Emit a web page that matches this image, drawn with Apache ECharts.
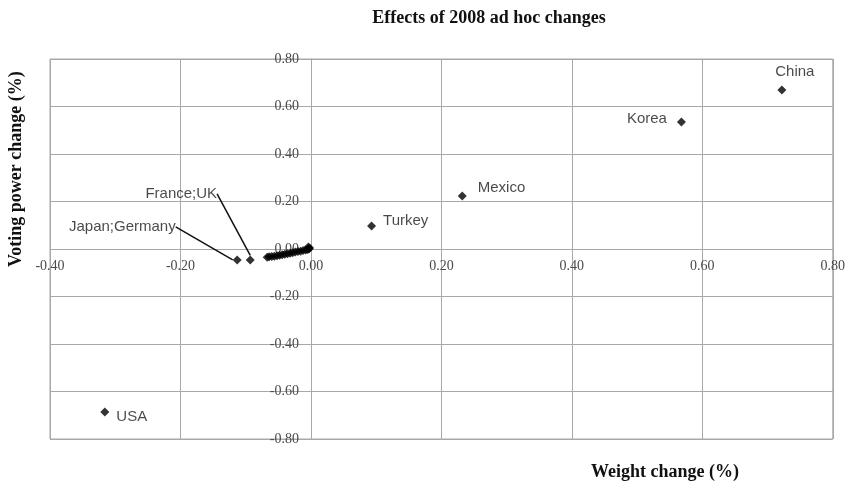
<!DOCTYPE html>
<html>
<head>
<meta charset="utf-8">
<script src="https://cdn.jsdelivr.net/npm/echarts@6/dist/echarts.min.js"></script>
<style>
  html, body { margin: 0; padding: 0; background: #fff; }
  #main { width: 848px; height: 482px; }
</style>
</head>
<body>
<div id="main"></div>
<script>
// labelled countries
var countries = ['China', 'Korea', 'Mexico', 'Turkey', 'USA', 'Japan;Germany', 'France;UK'];
var weightChange = [0.722, 0.568, 0.232, 0.093, -0.316, -0.113, -0.093];
var votingChange = [0.669, 0.535, 0.223, 0.097, -0.686, -0.046, -0.046];

// the rest of the members, bunched up near the origin
var otherWeight = [-0.067, -0.064, -0.060, -0.056, -0.052, -0.048, -0.044, -0.040, -0.036, -0.032,
                   -0.028, -0.024, -0.020, -0.016, -0.012, -0.008, -0.005, -0.003, -0.002, -0.004];
var otherVoting = [-0.035, -0.033, -0.032, -0.030, -0.028, -0.026, -0.024, -0.022, -0.020, -0.018,
                   -0.016, -0.013, -0.011, -0.009, -0.006, -0.004, -0.002, 0.000, 0.004, 0.008];

var xTicks = { min: -0.4, max: 0.8, step: 0.2 };
var yTicks = { min: -0.8, max: 0.8, step: 0.2 };

// label placement: side of the marker, then a nudge in px
var labelSide = {
  'China': 'top', 'Korea': 'left', 'Mexico': 'right', 'Turkey': 'right',
  'USA': 'right', 'Japan;Germany': 'left', 'France;UK': 'top'
};
var labelNudge = {
  'China': [13, -1],
  'Korea': [-5, -3],
  'Mexico': [6, -8],
  'Turkey': [2, -5],
  'USA': [2, 5],
  'Japan;Germany': [-52, -33],
  'France;UK': [-69, -49]
};
var withLeader = { 'Japan;Germany': true, 'France;UK': true };

var labelled = [];
for (var i = 0; i < countries.length; i++) {
  labelled.push({
    name: countries[i],
    value: [weightChange[i], votingChange[i]],
    label: { show: true, position: labelSide[countries[i]] },
    labelLine: { show: !!withLeader[countries[i]] }
  });
}
var others = [];
for (var j = 0; j < otherWeight.length; j++) {
  others.push([otherWeight[j], otherVoting[j]]);
}

var gridLeft = 50, gridRight = 12, gridTop = 59, gridBottom = 43;
var tickFont = { fontFamily: 'Liberation Serif', fontSize: 14, color: '#4a4a4a' };
var gridColor = '#a8a8a8';

var myChart = echarts.init(document.getElementById('main'));
myChart.setOption({
  animation: false,
  title: {
    text: 'Effects of 2008 ad hoc changes',
    left: 484,
    top: 4,
    textAlign: 'center',
    textStyle: { fontFamily: 'Liberation Serif', fontWeight: 'bold', fontSize: 18, color: '#111' }
  },
  grid: {
    left: gridLeft, right: gridRight, top: gridTop, bottom: gridBottom,
    show: true, borderColor: gridColor, borderWidth: 1
  },
  xAxis: {
    type: 'value',
    min: xTicks.min, max: xTicks.max, interval: xTicks.step,
    axisLine: { show: true, onZero: false, lineStyle: { color: gridColor } },
    axisTick: { show: false },
    splitLine: { show: true, lineStyle: { color: gridColor } },
    axisLabel: {
      margin: 10,
      formatter: function (v) { return v.toFixed(2); },
      fontFamily: tickFont.fontFamily, fontSize: tickFont.fontSize, color: tickFont.color
    }
  },
  yAxis: {
    type: 'value',
    min: yTicks.min, max: yTicks.max, interval: yTicks.step,
    axisLine: { show: true, onZero: false, lineStyle: { color: gridColor } },
    axisTick: { show: false },
    splitLine: { show: true, lineStyle: { color: gridColor } },
    axisLabel: {
      margin: 12,
      formatter: function (v) { return v.toFixed(2); },
      fontFamily: tickFont.fontFamily, fontSize: tickFont.fontSize, color: tickFont.color
    }
  },
  graphic: [
    {
      type: 'text', left: 591, top: 463,
      style: { text: 'Weight change (%)', font: 'bold 18px "Liberation Serif"', fill: '#111' }
    },
    {
      type: 'text', x: 7, y: 267, rotation: Math.PI / 2,
      style: { text: 'Voting power change (%)', font: 'bold 18px "Liberation Serif"', fill: '#111' }
    }
  ],
  series: [
    {
      type: 'scatter',
      data: others,
      symbol: 'diamond',
      symbolSize: 9,
      itemStyle: { color: '#000' }
    },
    {
      type: 'scatter',
      data: labelled,
      symbol: 'diamond',
      symbolSize: 9,
      itemStyle: { color: '#000' },
      label: {
        formatter: '{b}',
        fontFamily: 'Liberation Sans',
        fontSize: 15,
        color: '#1a1a1a'
      },
      labelLine: { lineStyle: { color: '#111', width: 1.5 } },
      labelLayout: function (params) {
        var n = labelNudge[countries[params.dataIndex]];
        return { dx: n[0], dy: n[1] };
      }
    }
  ]
});

// axes cross at the origin: shift them inwards to the zero lines
var x0 = myChart.convertToPixel({ xAxisIndex: 0 }, 0);
var y0 = myChart.convertToPixel({ yAxisIndex: 0 }, 0);
myChart.setOption({
  xAxis: { offset: -((482 - gridBottom) - y0) },
  yAxis: { offset: -(x0 - gridLeft) }
});
</script>
</body>
</html>
